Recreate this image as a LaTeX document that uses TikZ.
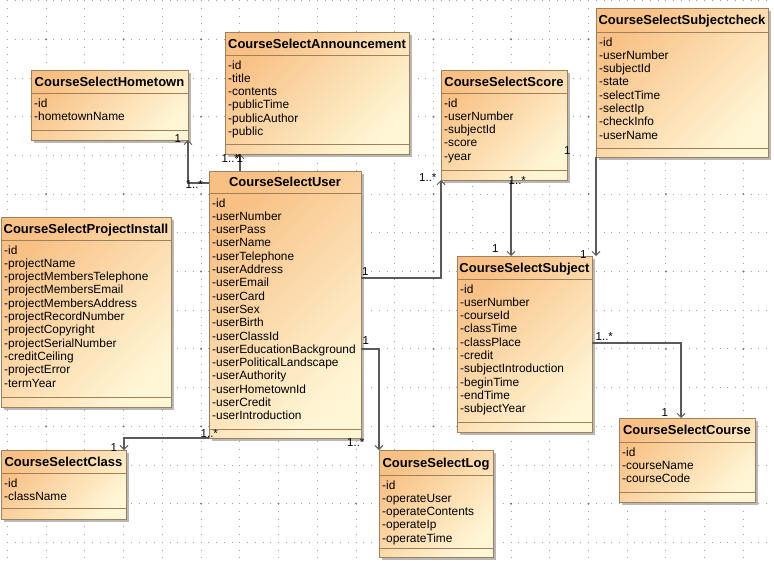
\documentclass[tikz,border=0pt]{standalone}
\usepackage{fontspec}
\setmainfont{Liberation Sans}
\usetikzlibrary{arrows.meta}
\definecolor{boxborder}{RGB}{160,128,88}
\definecolor{boxtop}{RGB}{248,192,132}
\definecolor{boxbot}{RGB}{255,246,214}
\definecolor{conn}{RGB}{90,90,90}
\definecolor{griddot}{RGB}{160,160,160}
\tikzset{
  classbox/.style={draw=boxborder, line width=1pt, inner sep=0pt, outer sep=0pt, top color=boxtop, bottom color=boxbot, shading angle=45},
  boxline/.style={draw=boxborder, line width=1pt},
  boxshadow/.style={fill=black!28},
  classtitle/.style={font=\fontsize{13}{15}\selectfont\bfseries, inner sep=0pt},
  attr/.style={font=\fontsize{11.9}{13.3}\selectfont, inner sep=0pt},
  mult/.style={font=\fontsize{11.5}{13}\selectfont, inner sep=0pt, anchor=base west},
  assoc/.style={draw=conn, line width=1.1pt, -{Straight Barb[length=4pt,width=8pt,line width=0.9pt]}},
  hgrid/.style={griddot, line width=1pt, dash pattern=on 1pt off 6.748pt},
  vgrid/.style={griddot, line width=1pt, dash pattern=on 1pt off 6.74pt},
}
\newcommand\umlclass[9]{%
  \fill[boxshadow] (#2+3,#3+3) rectangle (#4+3,#5+3);
  \node[classbox, anchor=north west, minimum width={(#4-#2)*1pt}, minimum height={(#5-#3)*1pt}] (#1) at (#2,#3) {};
  \draw[boxline] (#2,#6) -- (#4,#6);
  \draw[boxline] (#2,#7) -- (#4,#7);
  \node[classtitle, anchor=base] (#1-t) at ({(#2+#4)/2},{(#3+#6)/2+4.6}) {#8};
  \foreach \a [count=\i] in {#9} {\node[attr, anchor=base west] (#1-a\i) at (#2+3,{#6+14+(\i-1)*13.3}) {\a};}
}
\begin{document}
\begin{tikzpicture}[x=1pt,y=-1pt]
\useasboundingbox (0,0) rectangle (774,565);
\fill[white] (0,0) rectangle (774,565);
\begin{scope}
\clip (0,0) rectangle (774,565);
\foreach \k in {0,...,19} \draw[vgrid] ({7.4+38.74*\k},-38.6) -- ({7.4+38.74*\k},580);
\foreach \k in {0,...,14} \draw[hgrid] (-31.84,{0.6+38.7*\k}) -- (790,{0.6+38.7*\k});
\foreach \i in {0,...,9} \foreach \j in {0,...,6} \fill[black!55] ({46.14+77.48*\i},{39.3+77.4*\j}) circle (1.1pt);
\end{scope}

\umlclass{hometown}{31}{70}{188}{140}{93}{130}{CourseSelectHometown}{-id,-hometownName}
\umlclass{announcement}{225}{32}{409}{154}{55}{144}{CourseSelectAnnouncement}{-id,-title,-contents,-publicTime,-publicAuthor,-public}
\umlclass{score}{441}{70}{567}{180}{93}{170}{CourseSelectScore}{-id,-userNumber,-subjectId,-score,-year}
\umlclass{subjectcheck}{596}{8}{768}{157}{32}{148}{CourseSelectSubjectcheck}{-id,-userNumber,-subjectId,-state,-selectTime,-selectIp,-checkInfo,-userName}
\umlclass{user}{209}{171}{361}{438}{193}{429}{CourseSelectUser}{-id,-userNumber,-userPass,-userName,-userTelephone,-userAddress,-userEmail,-userCard,-userSex,-userBirth,-userClassId,-userEducationBackground,-userPoliticalLandscape,-userAuthority,-userHometownId,-userCredit,-userIntroduction}
\umlclass{project}{1}{217}{171}{407}{240}{397}{CourseSelectProjectInstall}{-id,-projectName,-projectMembersTelephone,-projectMembersEmail,-projectMembersAddress,-projectRecordNumber,-projectCopyright,-projectSerialNumber,-creditCeiling,-projectError,-termYear}
\umlclass{subject}{457}{256}{592}{432}{279}{422}{CourseSelectSubject}{-id,-userNumber,-courseId,-classTime,-classPlace,-credit,-subjectIntroduction,-beginTime,-endTime,-subjectYear}
\umlclass{course}{619}{418}{755}{502}{442}{492}{CourseSelectCourse}{-id,-courseName,-courseCode}
\umlclass{class}{1}{450}{126}{519}{473}{508}{CourseSelectClass}{-id,-className}
\umlclass{log}{379}{450}{493}{557}{475}{548}{CourseSelectLog}{-id,-operateUser,-operateContents,-operateIp,-operateTime}

% connectors
\draw[assoc] (user.west |- 0,183) -| (hometown.south east);
\draw[assoc] (user.north -| 240,0) -- (announcement.south -| 240,0);
\draw[assoc] (user.east |- 0,278) -| (score.south west);
\draw[assoc] (score.south -| 511,0) -- (subject.north -| 511,0);
\draw[assoc] (subjectcheck.south west) -- (subject.north -| 596,0);
\draw[assoc] (user.east |- 0,349) -| (log.north west);
\draw[assoc] (user.south west) -| (class.north -| 124,0);
\draw[assoc] (subject.east |- 0,343) -| (course.north -| 681,0);

% multiplicities
\node[mult] (m1) at (174.5,142.7) {1};
\node[mult] (m2) at (185.5,188) {1..*};
\node[mult] (m3) at (221.5,162.3) {1..*};
\node[mult] (m4) at (236.5,162) {1};
\node[mult] (m5) at (362,275.7) {1};
\node[mult] (m6) at (419,181) {1..*};
\node[mult] (m7) at (508.5,184.5) {1..*};
\node[mult] (m8) at (492,252.5) {1};
\node[mult] (m9) at (580,258.3) {1};
\node[mult] (m10) at (564,154.5) {1};
\node[mult] (m11) at (362.5,344.5) {1};
\node[mult] (m12) at (347,446.7) {1..*};
\node[mult] (m13) at (110.5,451.7) {1};
\node[mult] (m14) at (200.5,437.3) {1..*};
\node[mult] (m15) at (595.5,340.7) {1..*};
\node[mult] (m16) at (661.5,416) {1};
\end{tikzpicture}
\end{document}
